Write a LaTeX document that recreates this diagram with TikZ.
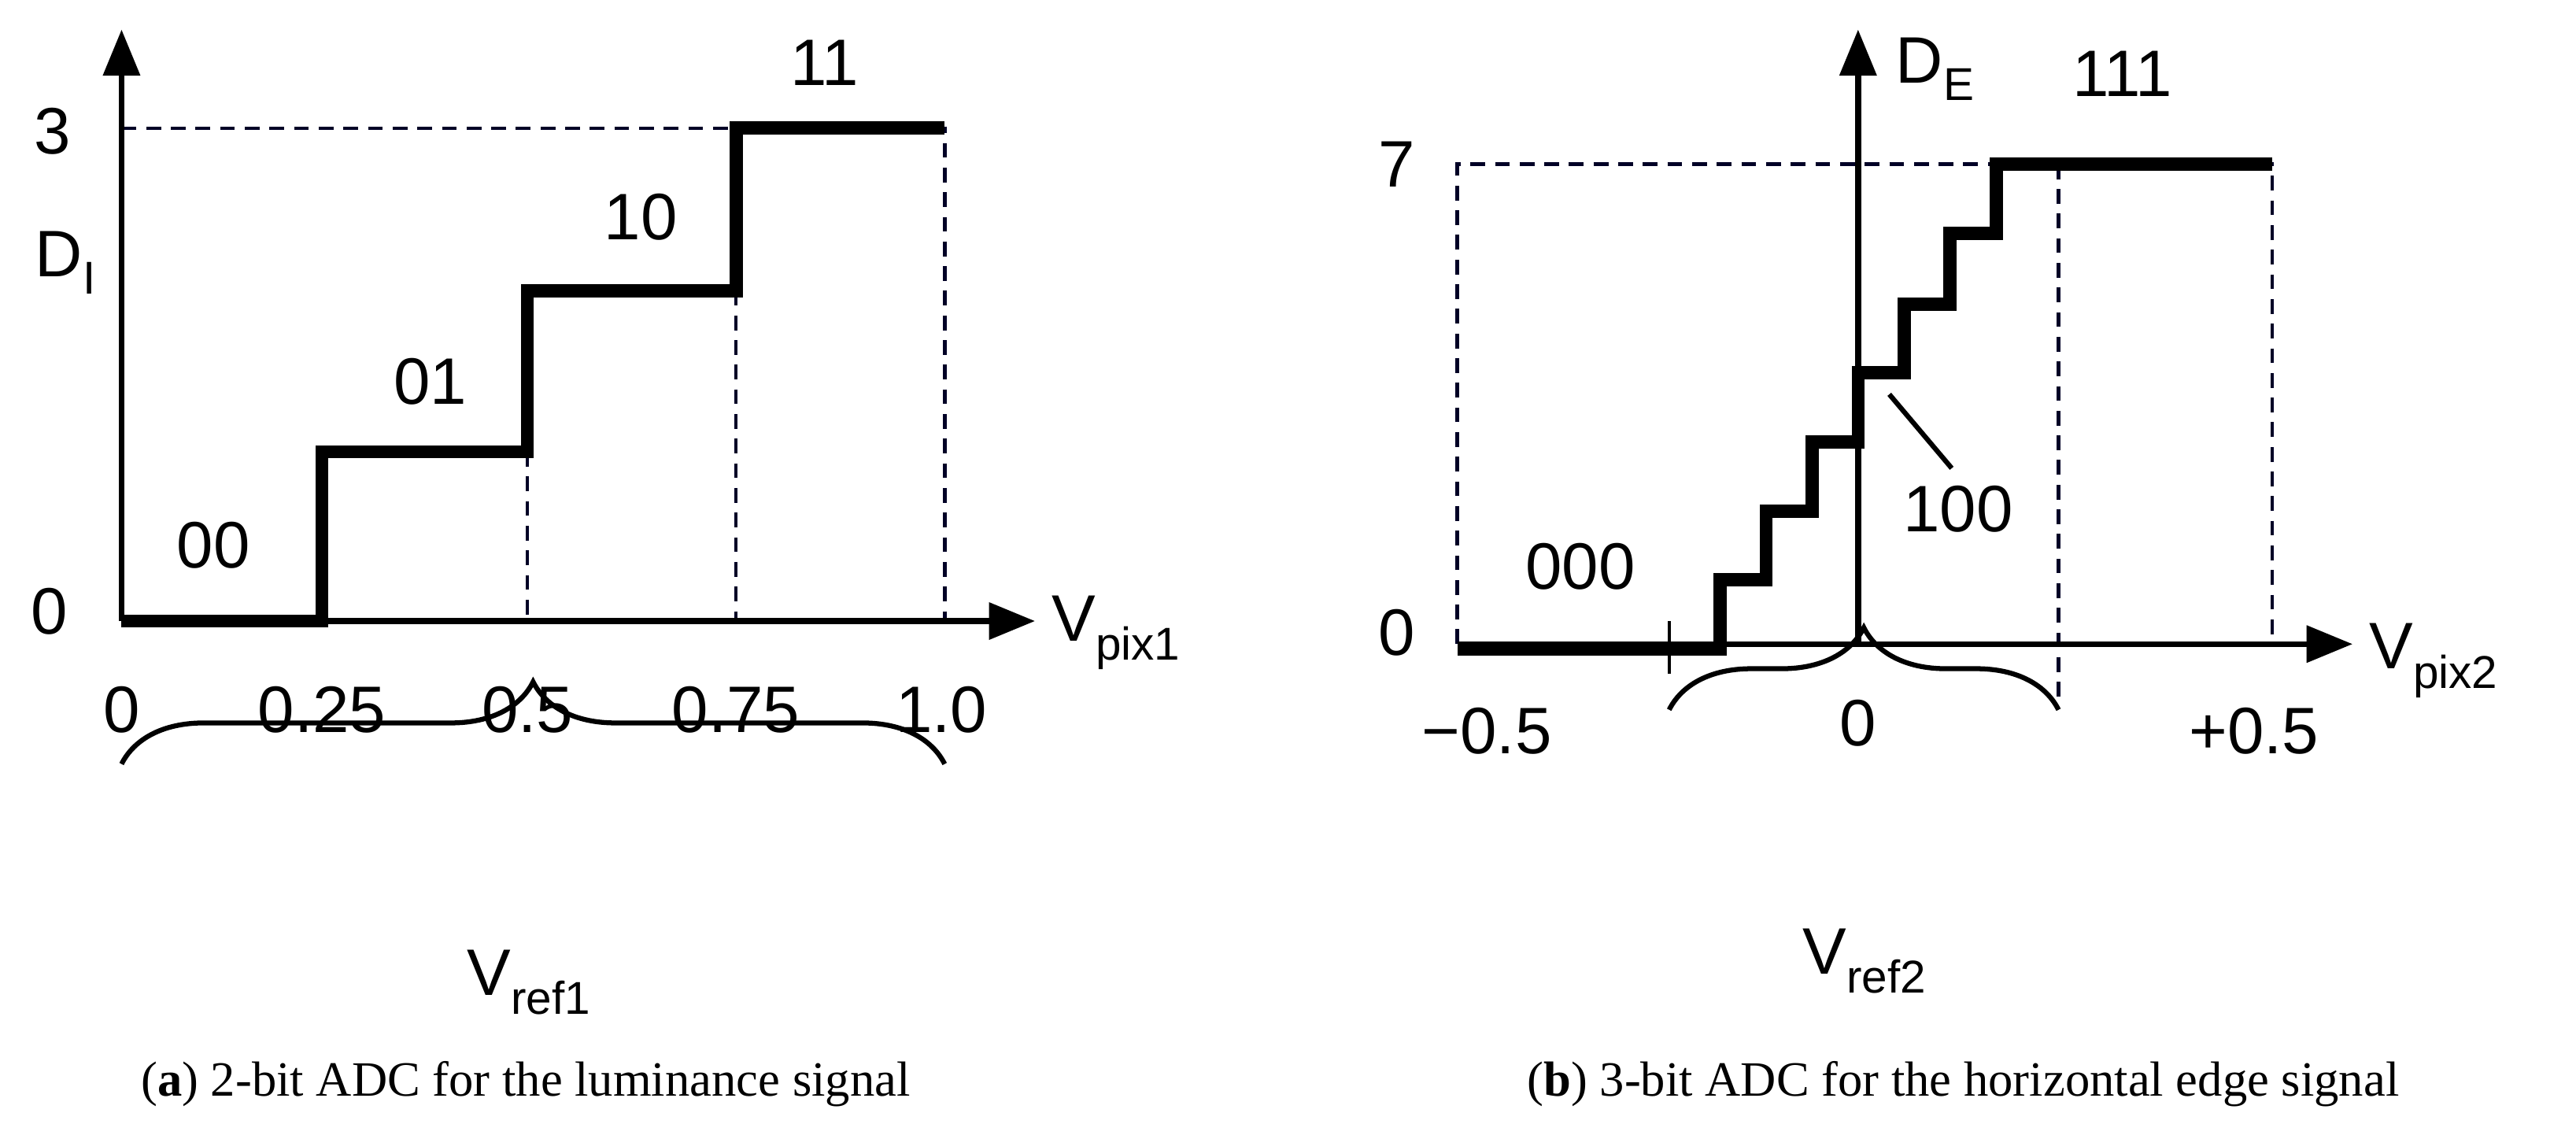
\documentclass[tikz,border=0pt]{standalone}
\usepackage{fontspec}
\setmainfont{Liberation Sans}
\newfontfamily\capfont{Liberation Serif}
\usetikzlibrary{decorations.pathreplacing,arrows.meta}
\begin{document}
\begin{tikzpicture}[x=1pt,y=-1pt,
 ax/.style={line width=3.5pt,-{Triangle[length=28pt,width=22pt]}},
 dsh/.style={line width=2.2pt,dash pattern=on 9pt off 6pt,color=black!85!blue},
 stair/.style={line width=8pt,line join=miter},
 lbl/.style={font=\fontsize{40}{44}\selectfont,inner sep=0pt},
 captxt/.style={font=\capfont\fontsize{30}{34}\selectfont,inner sep=0pt},
 br/.style={decorate,decoration={brace,amplitude=50pt},line width=3pt}]
\useasboundingbox (0,0) rectangle (1568,684);
% panel a
\coordinate (a0) at (74,378);
\coordinate (ayt) at (74,18);
\coordinate (axt) at (630,378);
\draw[dsh] (74,78) -- (575,78) -- (575,378);
\draw[dsh] (321,275) -- (321,378);
\draw[dsh] (448,177) -- (448,378);
\draw[stair] (74,378) -- (196,378) -- (196,275) -- (321,275) -- (321,177) -- (448,177) -- (448,78) -- (575,78);
\draw[ax] (a0) -- (ayt);
\draw[ax] (a0) -- (axt);
\node[lbl] (a3) at (32,80) {3};
\node[lbl] (az) at (30,372) {0};
\node[lbl] (aD) at (40,160) {D\textsubscript{I}};
\node[lbl] (l00) at (130,332) {00};
\node[lbl] (l01) at (262,232) {01};
\node[lbl] (l10) at (390,132) {10};
\node[lbl] (l11) at (502,38) {11};
\node[lbl,anchor=west] (aV) at (640,385) {V\textsubscript{pix1}};
\node[lbl] (t0) at (74,432) {0};
\node[lbl] (t1) at (196,432) {0.25};
\node[lbl] (t2) at (321,432) {0.5};
\node[lbl] (t3) at (448,432) {0.75};
\node[lbl] (t4) at (573,432) {1.0};
\draw[br] (74,465) -- (575,465);
\node[lbl] (aR) at (322,598) {V\textsubscript{ref1}};
\node[captxt] (ca) at (320,660) {(\textbf{a}) 2-bit ADC for the luminance signal};
% panel b
\coordinate (b0) at (1131,392);
\coordinate (byt) at (1131,18);
\coordinate (bxl) at (887,392);
\coordinate (bxt) at (1432,392);
\draw[dsh] (887,392) -- (887,100) -- (1383,100) -- (1383,392);
\draw[dsh] (1253,100) -- (1253,430);
\draw[line width=2.2pt] (1016,378) -- (1016,410);
\draw[stair] (887,395) -- (1047,395) -- (1047,353) -- (1075,353) -- (1075,311) -- (1103,311) -- (1103,269) -- (1131,269) -- (1131,227) -- (1159,227) -- (1159,185) -- (1187,185) -- (1187,142) -- (1215,142) -- (1215,100) -- (1383,100);
\draw[ax] (b0) -- (byt);
\draw[ax] (bxl) -- (bxt);
\node[lbl] (b7) at (850,100) {7};
\node[lbl] (bz) at (850,385) {0};
\node[lbl] (bD) at (1178,42) {D\textsubscript{E}};
\node[lbl] (l111) at (1292,45) {111};
\node[lbl] (l000) at (962,345) {000};
\node[lbl] (l100) at (1192,310) {100};
\coordinate (p100) at (1150,240);
\draw[line width=3pt] (p100) -- (1188,285);
\node[lbl,anchor=west] (bV) at (1442,402) {V\textsubscript{pix2}};
\node[lbl] (s0) at (905,445) {−0.5};
\node[lbl] (s1) at (1131,440) {0};
\node[lbl] (s2) at (1372,445) {+0.5};
\draw[br] (1016,432) -- (1253,432);
\node[lbl] (bR) at (1135,585) {V\textsubscript{ref2}};
\node[captxt] (cb) at (1195,660) {(\textbf{b}) 3-bit ADC for the horizontal edge signal};
\end{tikzpicture}
\end{document}
